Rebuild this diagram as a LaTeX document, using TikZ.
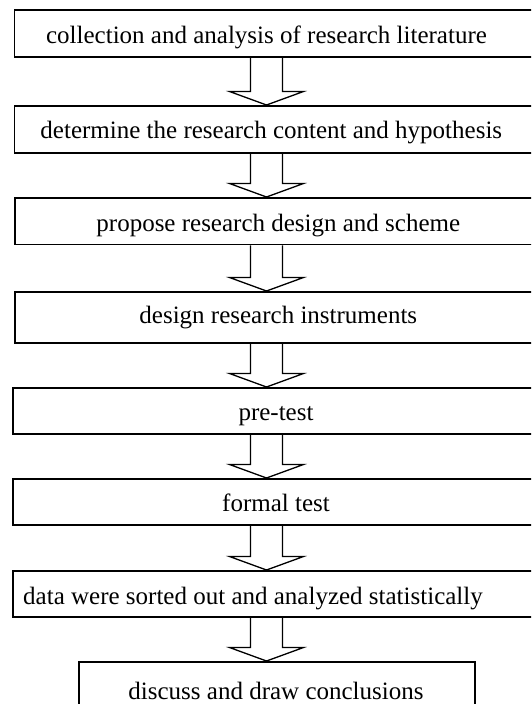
\documentclass[tikz,border=0pt]{standalone}
\usepackage{fontspec}
\setmainfont{Liberation Serif}
\usetikzlibrary{calc}
\tikzset{
  boxnode/.style={draw=black, line width=1.8pt, rectangle, inner sep=0pt, anchor=north west},
  label text/.style={font=\fontsize{25}{30}\selectfont, inner sep=0pt, anchor=base},
  arrowline/.style={draw=black, line width=1.3pt, line join=miter}
}
\newcommand\flowarrow[2]{%
  \draw[arrowline] ($(#1.south -| ax)+(-16,0)$) -- ($(#2.north -| ax)+(-16,13.5)$)
    -- ($(#2.north -| ax)+(-37,13.5)$) -- (#2.north -| ax)
    -- ($(#2.north -| ax)+(37,13.5)$) -- ($(#2.north -| ax)+(16,13.5)$)
    -- ($(#1.south -| ax)+(16,0)$);}
\begin{document}
\begin{tikzpicture}[x=1pt,y=1pt]
\useasboundingbox (0,0) rectangle (531,-704);
\clip (0,0) rectangle (531,-704);
\coordinate (ax) at (266.5,0);
% boxes
\node[boxnode, minimum width=531.5pt, minimum height=47pt] (b1) at (13.5,-9) {};
\node[boxnode, minimum width=531.5pt, minimum height=47pt] (b2) at (13.5,-105) {};
\node[boxnode, minimum width=531pt, minimum height=46.5pt] (b3) at (14,-197) {};
\node[boxnode, minimum width=531pt, minimum height=51pt] (b4) at (14,-291) {};
\node[boxnode, minimum width=533pt, minimum height=46pt] (b5) at (12,-387) {};
\node[boxnode, minimum width=533pt, minimum height=46pt] (b6) at (12,-478) {};
\node[boxnode, minimum width=533pt, minimum height=46pt] (b7) at (12,-570) {};
\node[boxnode, minimum width=396pt, minimum height=60pt] (b8) at (78.3,-661) {};
% texts
\node[label text] (t1) at (266.5,-43.3) {collection and analysis of research literature};
\node[label text] (t2) at (271.3,-138.8) {determine the research content and hypothesis};
\node[label text] (t3) at (278.3,-231.7) {propose research design and scheme};
\node[label text] (t4) at (278.3,-323.3) {design research instruments};
\node[label text] (t5) at (276,-420.7) {pre-test};
\node[label text] (t6) at (276,-511.7) {formal test};
\node[label text] (t7) at (253,-604) {data were sorted out and analyzed statistically};
\node[label text] (t8) at (276,-699.5) {discuss and draw conclusions};
% arrows
\flowarrow{b1}{b2}
\flowarrow{b2}{b3}
\flowarrow{b3}{b4}
\flowarrow{b4}{b5}
\flowarrow{b5}{b6}
\flowarrow{b6}{b7}
\flowarrow{b7}{b8}
\end{tikzpicture}
\end{document}
